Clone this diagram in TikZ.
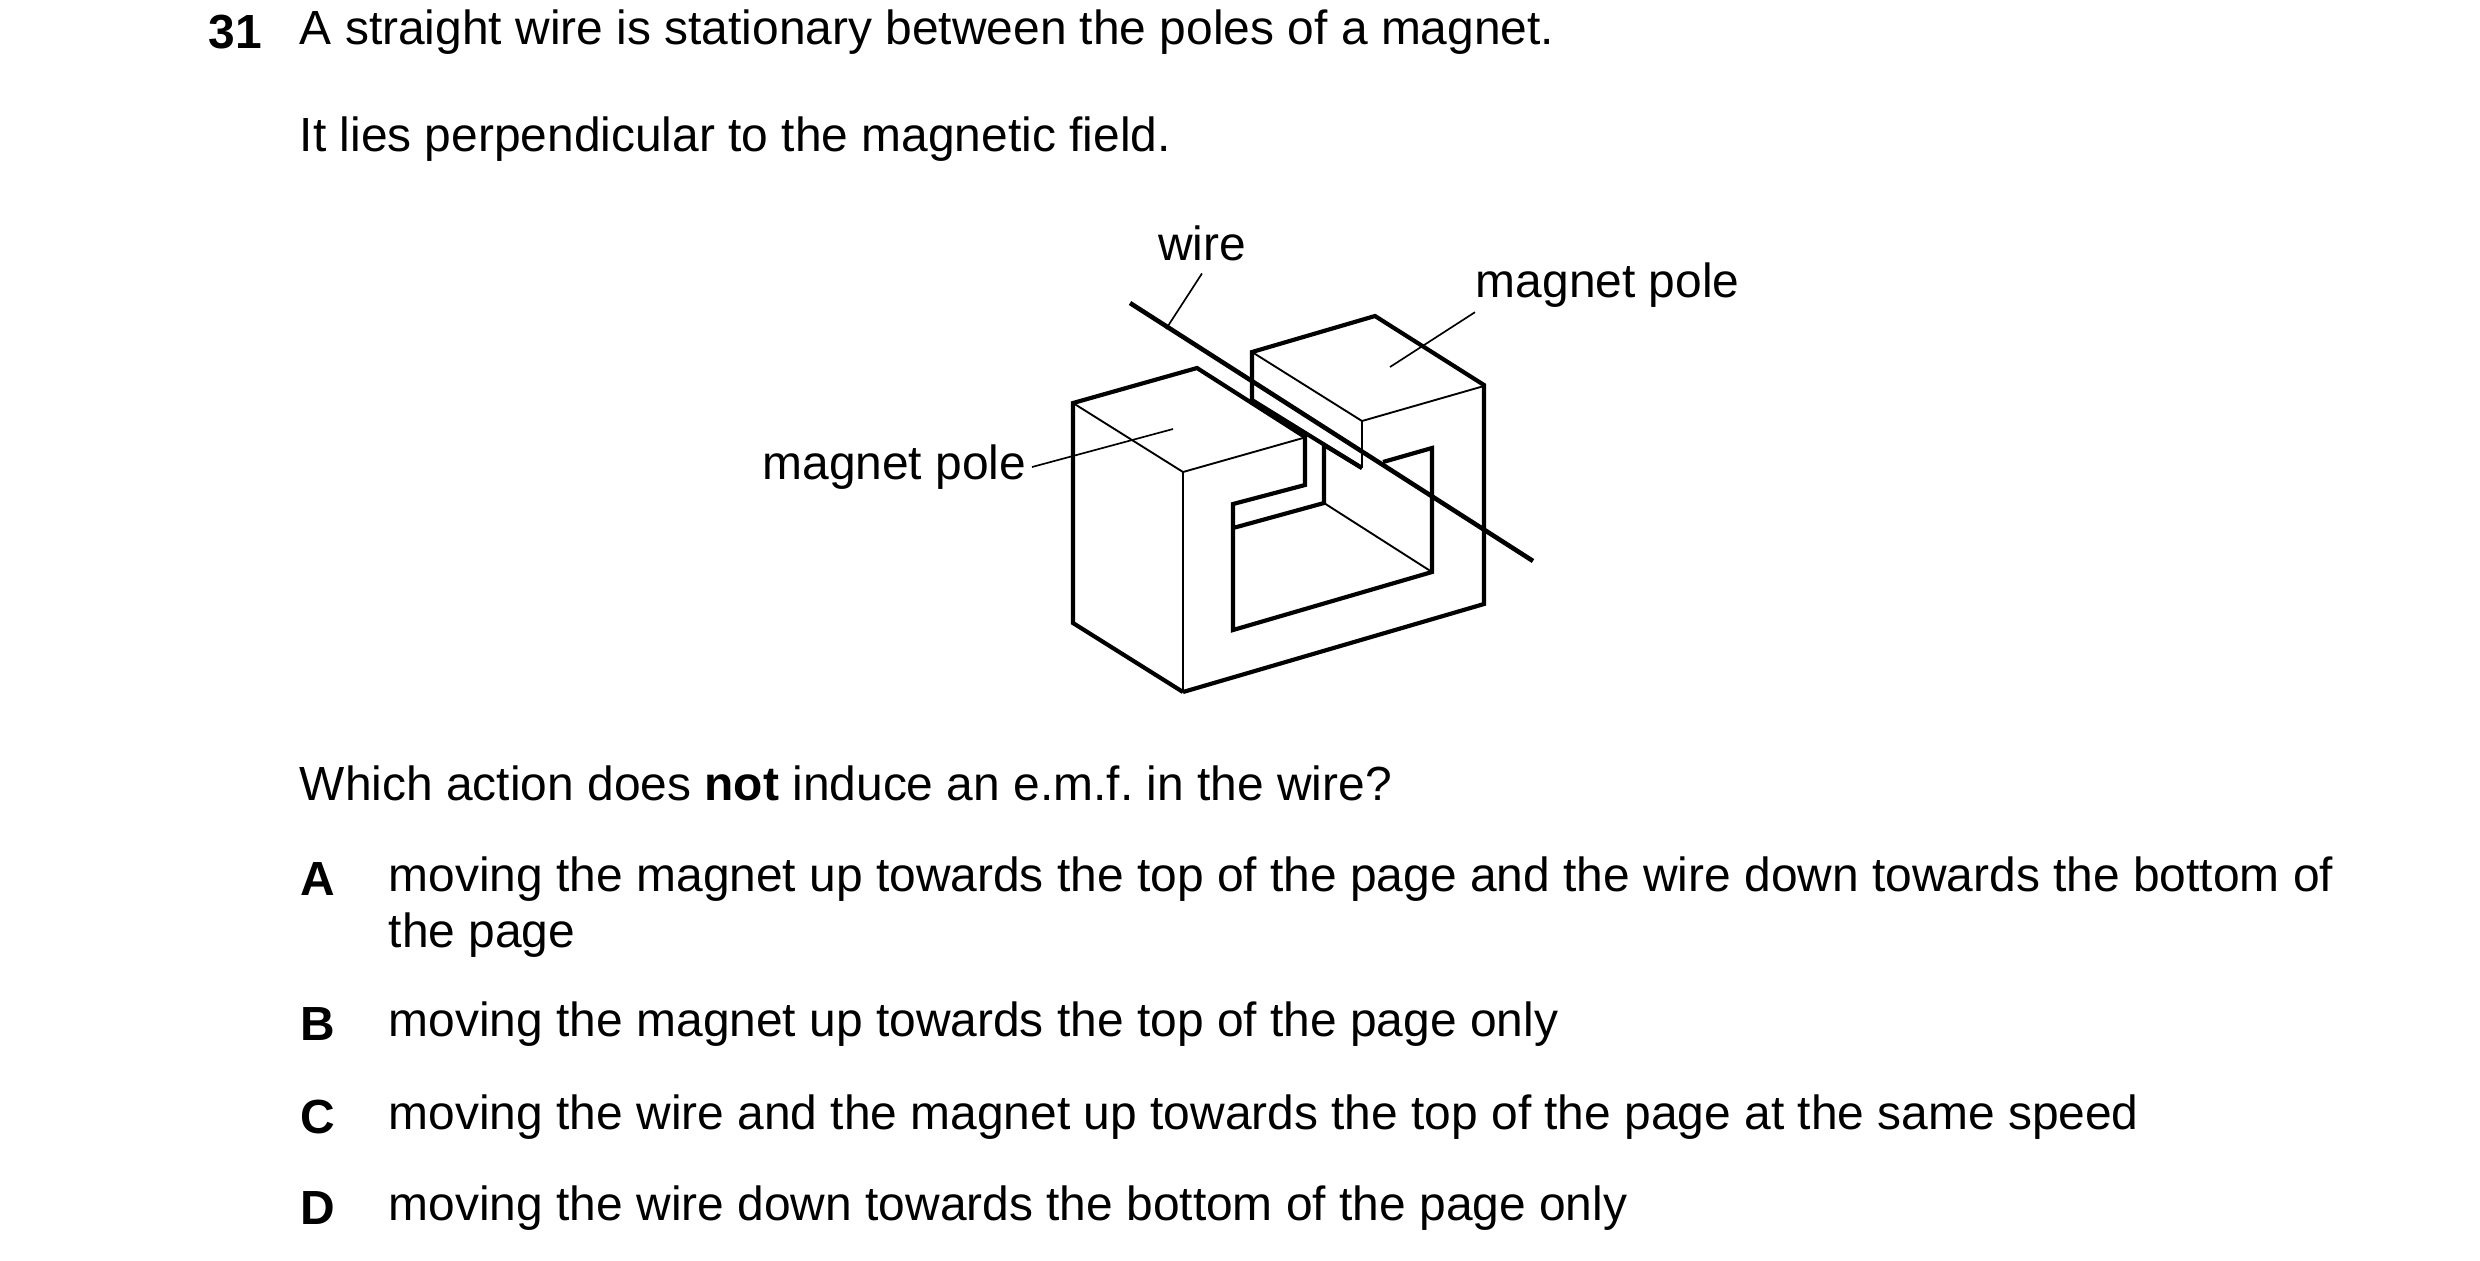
\documentclass[tikz,border=0pt]{standalone}
\usepackage{fontspec}
\setmainfont{Liberation Sans}
\begin{document}
\begin{tikzpicture}[x=0.24pt,y=-0.24pt,
  txt/.style={anchor=west,inner sep=0pt,font=\fontsize{11.5}{13}\selectfont},
  lbl/.style={anchor=west,inner sep=0pt,font=\fontsize{11.5}{13}\selectfont\bfseries},
  thk/.style={line width=1pt,line join=miter},
  thn/.style={line width=0.45pt},
  ldr/.style={line width=0.4pt}]
\useasboundingbox (0,0) rectangle (2480,1260);
\node[lbl] (n) at (208,32) {31};
\node[txt] (t1) at (299,32) {A straight wire is stationary between the poles of a magnet.};
\node[txt] (t2) at (299,139) {It lies perpendicular to the magnetic field.};
\node[txt] (q) at (299,783) {Which action does \textbf{not} induce an e.m.f.\ in the wire?};
\node[lbl] (la) at (300,879) {A};
\node[txt] (a1) at (388,879) {moving the magnet up towards the top of the page and the wire down towards the bottom of};
\node[txt] (a2) at (388,935) {the page};
\node[lbl] (lb) at (300,1024) {B};
\node[txt] (b) at (388,1024) {moving the magnet up towards the top of the page only};
\node[lbl] (lc) at (300,1117) {C};
\node[txt] (c) at (388,1117) {moving the wire and the magnet up towards the top of the page at the same speed};
\node[lbl] (ld) at (300,1208) {D};
\node[txt] (d) at (388,1208) {moving the wire down towards the bottom of the page only};
% magnet
\draw[thk] (1183,692) -- (1073,623) -- (1073,403) -- (1197,368) -- (1305,437) -- (1305,485) -- (1233,504) -- (1233,630) -- (1432,572) -- (1432,448) -- (1383,462);
\draw[thk] (1233,528) -- (1324,503) -- (1324,445) -- (1362,468);
\draw[thk] (1183,692) -- (1484,604) -- (1484,385) -- (1375,316) -- (1252,352) -- (1252,400) -- (1362,468);
\draw[thn] (1073,403) -- (1183,472) -- (1303,438);
\draw[thn] (1183,472) -- (1183,692);
\draw[thn] (1324,503) -- (1432,572);
\draw[thn] (1252,352) -- (1362,421) -- (1484,386);
\draw[thn] (1362,421) -- (1362,468);
% wire
\coordinate (w1) at (1130,303);
\coordinate (w2) at (1533,561);
\draw[line width=1.1pt] (w1) -- (w2);
% labels
\node[txt,anchor=center] (wl) at (1202,243) {wire};
\node[txt] (mp1) at (1475,285) {magnet pole};
\node[txt,anchor=east] (mp2) at (1027,467) {magnet pole};
\draw[ldr] (wl.south) ++(0,12) -- (1166,329);
\draw[ldr] (mp1.south west) ++(0,4) -- (1390,367);
\draw[ldr] (mp2.east) ++(5,0) -- (1173,429);
\end{tikzpicture}
\end{document}
